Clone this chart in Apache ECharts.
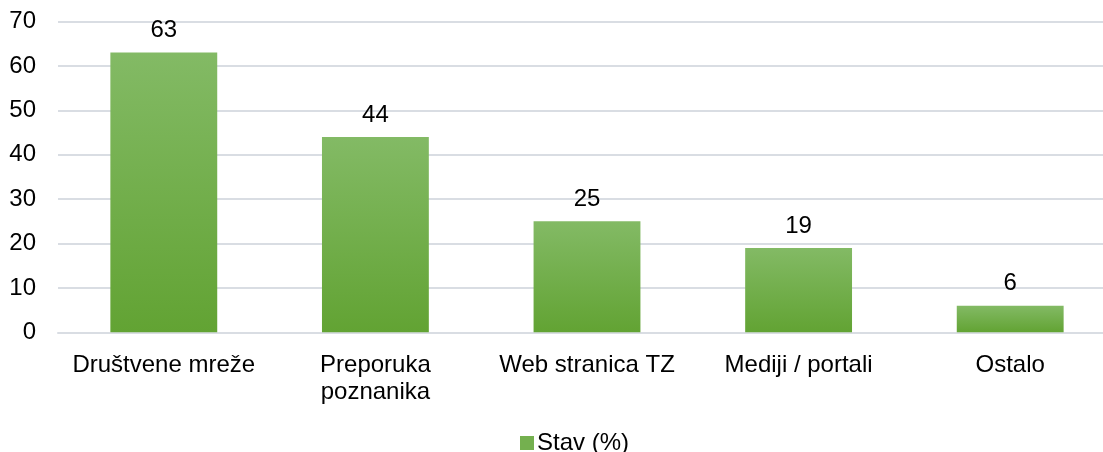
<!DOCTYPE html>
<html>
<head>
<meta charset="utf-8">
<script src="https://cdn.jsdelivr.net/npm/echarts@6/dist/echarts.min.js"></script>
<style>
  html, body { margin: 0; padding: 0; background: #fff; }
  #chart { width: 1103px; height: 452px; }
</style>
</head>
<body>
<div id="chart"></div>
<script>
const categories = ['Društvene mreže', 'Preporuka\npoznanika', 'Web stranica TZ', 'Mediji / portali', 'Ostalo'];
const values = [63, 44, 25, 19, 6];
const seriesName = 'Stav (%)';

const font = 'Arial, "Liberation Sans", sans-serif';
const barFill = new echarts.graphic.LinearGradient(0, 0, 0, 1, [
  { offset: 0, color: '#83ba65' },
  { offset: 1, color: '#62a333' }
]);

const chart = echarts.init(document.getElementById('chart'), null, { renderer: 'canvas' });
chart.setOption({
  animation: false,
  // plot area runs a little past the right edge, like the original
  grid: { left: 58, width: 1058, top: 21.5, bottom: 119.7, outerBoundsMode: 'none' },
  legend: {
    top: 426,
    left: 515,
    itemWidth: 14,
    itemHeight: 14,
    itemGap: 4,
    icon: 'rect',
    textStyle: { fontFamily: font, fontSize: 24, color: '#000', padding: [0, 0, 0, -2] },
    data: [{ name: seriesName, itemStyle: { color: '#74b04f' } }]
  },
  xAxis: {
    type: 'category',
    data: categories,
    axisLine: { show: true, lineStyle: { color: '#d9dde3', width: 2 } },
    axisTick: { show: false },
    axisLabel: {
      fontFamily: font, fontSize: 24, color: '#000',
      margin: 20, lineHeight: 27, interval: 0
    }
  },
  yAxis: {
    type: 'value',
    min: 0,
    max: 70,
    interval: 10,
    axisLine: { show: false },
    axisTick: { show: false },
    splitLine: { lineStyle: { color: '#d9dde3', width: 2 } },
    axisLabel: { fontFamily: font, fontSize: 24, color: '#000', margin: 22 }
  },
  series: [{
    name: seriesName,
    type: 'bar',
    data: values,
    barWidth: '50.5%',
    itemStyle: { color: barFill },
    label: {
      show: true,
      position: 'top',
      distance: 10,
      fontFamily: font,
      fontSize: 24,
      color: '#000'
    }
  }]
});
</script>
</body>
</html>
